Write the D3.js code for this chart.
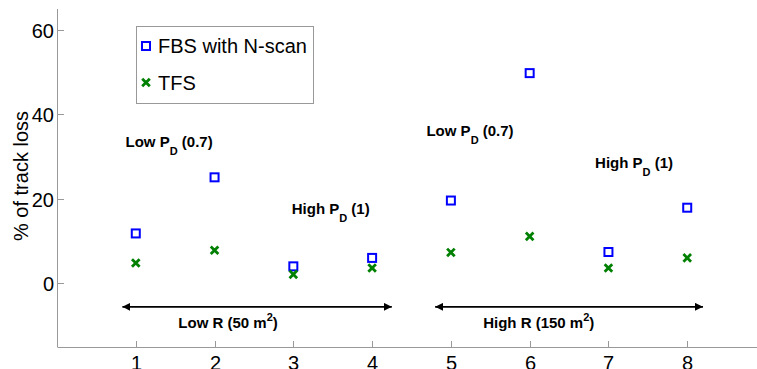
<!DOCTYPE html>
<html>
<head>
<meta charset="utf-8">
<script src="https://cdn.jsdelivr.net/npm/d3@7"></script>
<style>
  body { margin: 0; background: #fff; }
  text { font-family: "Liberation Sans", Arial, sans-serif; }
</style>
</head>
<body>
<div id="chart"></div>
<script>
var cases = [1, 2, 3, 4, 5, 6, 7, 8];
var fbsValues = [11.8, 25.1, 4.0, 6.0, 19.6, 49.8, 7.4, 17.9];
var tfsValues = [4.8, 7.8, 2.1, 3.6, 7.3, 11.1, 3.6, 6.0];
var yTicks = [0, 20, 40, 60];
var seriesNames = ['FBS with N-scan', 'TFS'];

// annotation anchors, in data units
var pdLabels = [
  {x: 0.87, y: 32.3, main: 'Low P', sub: 'D', rest: ' (0.7)'},
  {x: 2.98, y: 16.4, main: 'High P', sub: 'D', rest: ' (1)'},
  {x: 4.69, y: 34.8, main: 'Low P', sub: 'D', rest: ' (0.7)'},
  {x: 6.83, y: 27.2, main: 'High P', sub: 'D', rest: ' (1)'}
];
var rangeArrows = [
  {x1: 0.83, x2: 4.25, y: -5.6, label: 'Low R (50 m', labelX: 1.54},
  {x1: 4.80, x2: 8.20, y: -5.6, label: 'High R (150 m', labelX: 5.41}
];

var width = 757, height = 369;

var svg = d3.select('#chart').append('svg')
            .attr('width', width)
            .attr('height', height);

var x = d3.scaleLinear().domain([0, 9]).range([57, 766]);
var y = d3.scaleLinear().domain([-15, 65]).range([346.5, 9]);

var axisColor = '#999';

// y axis
svg.append('line')
   .attr('x1', 57.5).attr('x2', 57.5)
   .attr('y1', y(65)).attr('y2', y(-15) + 0.5)
   .attr('stroke', axisColor);
var yt = svg.selectAll('g.ytick').data(yTicks).enter().append('g')
            .attr('class', 'ytick')
            .attr('transform', function(d) { return 'translate(0,' + (Math.round(y(d)) + 0.5) + ')'; });
yt.append('line').attr('x1', 57.5).attr('x2', 64).attr('stroke', axisColor);
yt.append('text')
  .attr('x', 54).attr('dy', '0.35em')
  .attr('text-anchor', 'end')
  .attr('font-size', 20)
  .text(function(d) { return d; });

// x axis
svg.append('line')
   .attr('x1', 57.5).attr('x2', width)
   .attr('y1', 347.5).attr('y2', 347.5)
   .attr('stroke', axisColor);
var xt = svg.selectAll('g.xtick').data(cases).enter().append('g')
            .attr('class', 'xtick')
            .attr('transform', function(d) { return 'translate(' + (Math.round(x(d)) + 0.5) + ',0)'; });
xt.append('line').attr('y1', 347.5).attr('y2', 341).attr('stroke', axisColor);
xt.append('text')
  .attr('y', 370)
  .attr('text-anchor', 'middle')
  .attr('font-size', 20)
  .text(function(d) { return d; });

// y label
svg.append('text')
   .attr('transform', 'translate(28,176) rotate(-90)')
   .attr('text-anchor', 'middle')
   .attr('font-size', 20)
   .text('% of track loss');

// markers
function drawSquare(sel) {
  sel.append('rect')
     .attr('x', -4).attr('y', -4)
     .attr('width', 8).attr('height', 8)
     .attr('fill', 'none')
     .attr('stroke', '#0000ff')
     .attr('stroke-width', 2);
}
function drawCross(sel) {
  sel.append('path')
     .attr('d', 'M-3.8,-3.8L3.8,3.8M-3.8,3.8L3.8,-3.8')
     .attr('stroke', '#008000')
     .attr('stroke-width', 2.8)
     .attr('fill', 'none');
}

svg.append('g').selectAll('g').data(fbsValues).enter().append('g')
   .attr('transform', function(d, i) { return 'translate(' + x(cases[i]) + ',' + y(d) + ')'; })
   .call(drawSquare);

svg.append('g').selectAll('g').data(tfsValues).enter().append('g')
   .attr('transform', function(d, i) { return 'translate(' + x(cases[i]) + ',' + y(d) + ')'; })
   .call(drawCross);

// P_D annotations
var pd = svg.append('g').selectAll('text').data(pdLabels).enter().append('text')
            .attr('x', function(d) { return x(d.x); })
            .attr('y', function(d) { return y(d.y); })
            .attr('font-size', 15)
            .attr('font-weight', 'bold');
pd.append('tspan').text(function(d) { return d.main; });
pd.append('tspan').attr('dy', 8).attr('font-size', 11).text(function(d) { return d.sub; });
pd.append('tspan').attr('dy', -8).text(function(d) { return d.rest; });

// range arrows
var defs = svg.append('defs');
defs.append('marker')
    .attr('id', 'head')
    .attr('viewBox', '0 0 10 10')
    .attr('refX', 10).attr('refY', 5)
    .attr('markerWidth', 8).attr('markerHeight', 8)
    .attr('markerUnits', 'userSpaceOnUse')
    .attr('orient', 'auto-start-reverse')
    .append('path')
    .attr('d', 'M0,0L10,5L0,10Z')
    .attr('fill', '#000');

var ar = svg.append('g').selectAll('g').data(rangeArrows).enter().append('g');
ar.append('line')
  .attr('x1', function(d) { return x(d.x1); })
  .attr('x2', function(d) { return x(d.x2); })
  .attr('y1', function(d) { return y(d.y); })
  .attr('y2', function(d) { return y(d.y); })
  .attr('stroke', '#000')
  .attr('stroke-width', 1.6)
  .attr('marker-start', 'url(#head)')
  .attr('marker-end', 'url(#head)');
var rl = ar.append('text')
  .attr('x', function(d) { return x(d.labelX); })
  .attr('y', 327.5)
  .attr('font-size', 15)
  .attr('font-weight', 'bold');
rl.append('tspan').text(function(d) { return d.label; });
rl.append('tspan').attr('dy', -7).attr('font-size', 11).text('2');
rl.append('tspan').attr('dy', 7).text(')');

// legend
var legend = svg.append('g');
legend.append('rect')
      .attr('x', 136.5).attr('y', 26.5)
      .attr('width', 177).attr('height', 77)
      .attr('fill', '#fff')
      .attr('stroke', axisColor);
var items = legend.selectAll('g.item').data(seriesNames).enter().append('g')
                  .attr('class', 'item')
                  .attr('transform', function(d, i) { return 'translate(146,' + (i === 0 ? 46 : 82.5) + ')'; });
items.filter(function(d, i) { return i === 0; }).call(drawSquare);
items.filter(function(d, i) { return i === 1; }).call(drawCross);
items.append('text')
     .attr('x', 12)
     .attr('y', 7)
     .attr('font-size', 20)
     .text(function(d) { return d; });
</script>
</body>
</html>
